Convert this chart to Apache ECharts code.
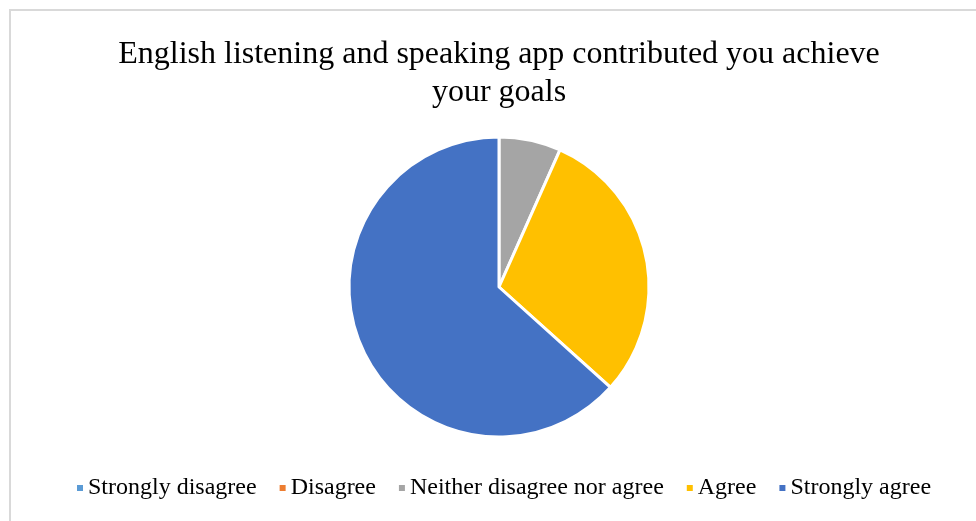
<!DOCTYPE html>
<html>
<head>
<meta charset="utf-8">
<script src="https://cdn.jsdelivr.net/npm/echarts@6/dist/echarts.min.js"></script>
<style>
  html, body { margin: 0; padding: 0; background: #fff; }
  #frame { position: absolute; left: 9px; top: 9px; width: 1000px; height: 560px;
           border-left: 2px solid #d9d9d9; border-top: 2px solid #d9d9d9; box-sizing: border-box; }
  #chart { position: absolute; left: 0; top: 0; width: 976px; height: 521px; }
</style>
</head>
<body>
<div id="frame"></div>
<div id="chart"></div>
<script>
const categories = ['Strongly disagree', 'Disagree', 'Neither disagree nor agree', 'Agree', 'Strongly agree'];
const responses = [0, 0, 2, 9, 19];
const sliceColors = ['#5B9BD5', '#ED7D31', '#A5A5A5', '#FFC000', '#4472C4'];

const chart = echarts.init(document.getElementById('chart'), null, { renderer: 'canvas' });
chart.setOption({
  animation: false,
  color: sliceColors,
  title: {
    text: 'English listening and speaking app contributed you achieve\nyour goals',
    left: 494,
    textAlign: 'center',
    top: 31,
    textStyle: {
      fontFamily: '"Liberation Serif", "Times New Roman", serif',
      fontSize: 32,
      fontWeight: 'normal',
      color: '#000',
      lineHeight: 38
    }
  },
  legend: {
    bottom: 16,
    left: 70,
    icon: 'rect',
    itemWidth: 8,
    itemHeight: 8,
    itemGap: 21,
    textStyle: {
      fontFamily: '"Liberation Serif", "Times New Roman", serif',
      fontSize: 24,
      color: '#000',
      padding: [0, 0, 0, -1]
    },
    data: categories
  },
  series: [{
    type: 'pie',
    center: [499, 287],
    radius: [0, 150],
    startAngle: 90,
    clockwise: true,
    label: { show: false },
    labelLine: { show: false },
    emphasis: { disabled: true },
    itemStyle: { borderColor: '#fff', borderWidth: 3 },
    data: categories.map((name, i) => ({ name: name, value: responses[i] }))
  }]
});
</script>
</body>
</html>
